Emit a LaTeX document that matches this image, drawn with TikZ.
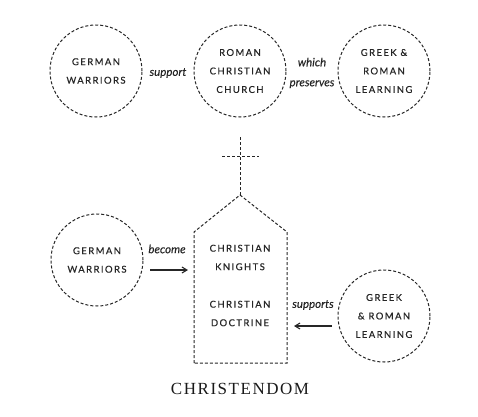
\documentclass[tikz,border=0pt]{standalone}
\usepackage{fontspec}
\usetikzlibrary{arrows.meta}
\newfontfamily\capsfont[LetterSpace=15,FakeBold=0.6]{Lato}
\newfontfamily\wordfont[FakeBold=0.2]{Lato Italic}
\newfontfamily\titlefont[LetterSpace=9]{Liberation Serif}

\begin{document}
\begin{tikzpicture}
[
x=1pt, y=-1pt,
dashline/.style={draw, line width=1pt, dash pattern=on 3pt off 2pt, color=black!85},
circ/.style={circle, dashline, minimum size=92pt, align=center, inner sep=0pt,
  font=\capsfont\fontsize{9.5}{18.5}\selectfont, text=black!85},
word/.style={align=center, inner sep=0pt, text=black!85,
  font=\wordfont\fontsize{11.5}{20}\selectfont},
inside/.style={align=center, inner sep=0pt, text=black!85,
  font=\capsfont\fontsize{9.5}{18.5}\selectfont},
arr/.style={-{Straight Barb[length=5pt,width=6pt]}, line width=1.1pt, color=black!85}
]
\useasboundingbox (0,0) rectangle (478,416);

% top row
\node[circ] (warriors) at (96,71) {GERMAN\\WARRIORS};
\node[circ] (church) at (240,71) {ROMAN\\CHRISTIAN\\CHURCH};
\node[circ] (learning) at (384,71) {GREEK \&\\ROMAN\\LEARNING};
\node[word] (support) at (168,73) {support};
\node[word] (preserves) at (312,73) {which\\preserves};

% the church
\coordinate (top) at (240,137);
\coordinate (apex) at (240,195);
\coordinate (barl) at (222,156);
\coordinate (barr) at (259,156);
\draw[dashline] (top) -- (apex);
\draw[dashline] (barl) -- (barr);
\draw[dashline] (194,363) -- (194,232) -- (apex) -- (287,232) -- (287,363) -- cycle;
\node[inside] (knights) at (240,257.5) {CHRISTIAN\\KNIGHTS};
\node[inside] (doctrine) at (240,313.5) {CHRISTIAN\\DOCTRINE};

% bottom row
\node[circ] (warriors2) at (97,260) {GERMAN\\WARRIORS};
\node[circ] (learning2) at (384,316) {GREEK\\\& ROMAN\\LEARNING};
\node[word] (become) at (167,249) {become};
\node[word] (supports) at (313,305) {supports};
\coordinate (b1) at (150,270);
\coordinate (b2) at (188,270);
\coordinate (s1) at (332,326);
\coordinate (s2) at (294,326);
\draw[arr] (b1) -- (b2);
\draw[arr] (s1) -- (s2);

\node[text=black!90, font=\titlefont\fontsize{17}{17}\selectfont] (title) at (240,389) {CHRISTENDOM};
\end{tikzpicture}
\end{document}
